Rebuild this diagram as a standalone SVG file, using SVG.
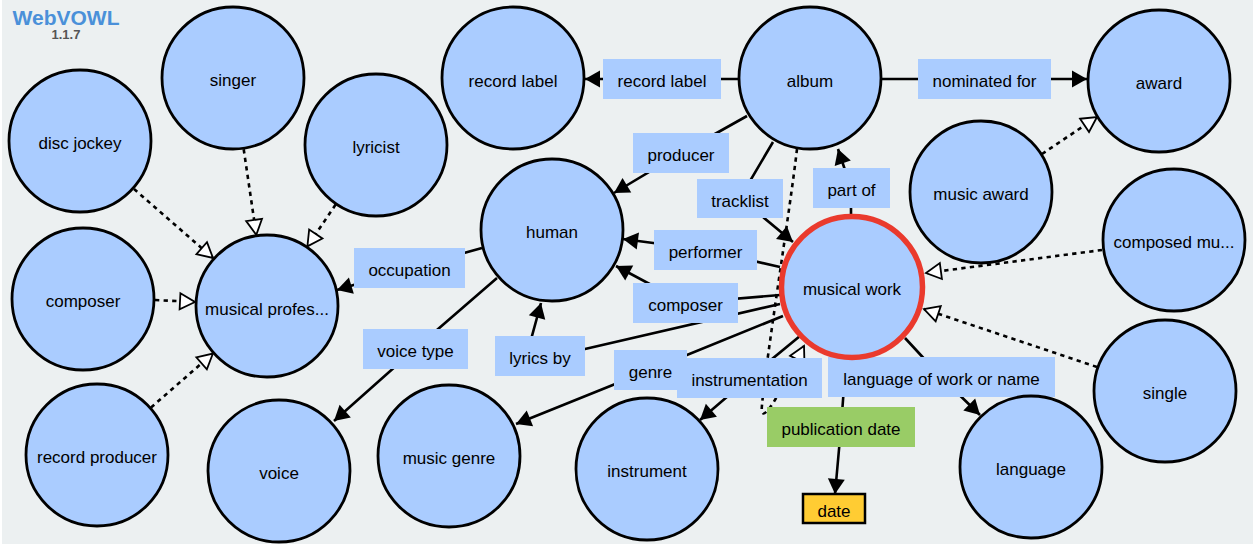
<svg xmlns="http://www.w3.org/2000/svg" width="1253" height="544" viewBox="0 0 1253 544">
<style>
text{font-family:"Liberation Sans",Arial,Helvetica,sans-serif;font-size:17px;fill:#000;text-anchor:middle}
.cls circle{fill:#aaccff;stroke:#000;stroke-width:2.8}
.cls.focus circle{stroke:#ea3a2d;stroke-width:5.5}
.lnk{fill:none;stroke:#000;stroke-width:2.6;marker-end:url(#arr)}
.sub{fill:none;stroke:#000;stroke-width:2.6;stroke-dasharray:4.3 4.3;marker-end:url(#tri)}
.prop rect{fill:#aaccff}
.dprop rect{fill:#99cc66}
.dtype rect{fill:#ffcc33;stroke:#000;stroke-width:2.5}
</style>
<defs>
<marker id="arr" viewBox="-16 -9 17 18" refX="0" refY="0" markerWidth="17" markerHeight="18" markerUnits="userSpaceOnUse" orient="auto">
<path d="M-15,-8.5 L0,0 L-15,8.5 z" fill="#000"/>
</marker>
<marker id="tri" viewBox="-17 -10.5 19 21" refX="0" refY="0" markerWidth="19" markerHeight="21" markerUnits="userSpaceOnUse" orient="auto">
<path d="M-15,-8 L0,0 L-15,8 z" fill="#fff" stroke="#000" stroke-width="1.8" stroke-linejoin="miter"/>
</marker>
</defs>
<rect x="0" y="0" width="1253" height="544" fill="#ecf0f1"/>
<rect x="0" y="0" width="2" height="544" fill="#ffffff"/>
<g id="logo">
<text x="66" y="25" style="font-size:21px;font-weight:bold;fill:#4a90d9">WebVOWL</text>
<text x="66" y="39" style="font-size:13px;font-weight:bold;fill:#555">1.1.7</text>
</g>
<g id="connectors">
<path class="sub" d="M134,189 L213,258"/>
<path class="sub" d="M243.7,149.2 L256.3,234.8"/>
<path class="sub" d="M335.6,204.6 L307.4,246.4"/>
<path class="sub" d="M155,300 L195,302"/>
<path class="sub" d="M151,407.5 L212.9,353.5"/>
<path class="sub" d="M1042,154 L1097,117"/>
<path class="sub" d="M1102,250 L926,273"/>
<path class="sub" d="M1097,367 L924,309"/>
<path class="sub" d="M797,149 C790,210 766,360 762,405 C759,432 782,390 804,346"/>
<path class="lnk" d="M738,79 L585,79"/>
<path class="lnk" d="M882,79 L1087,79"/>
<path class="lnk" d="M747,116 L681,153 L614,193"/>
<path class="lnk" d="M773,142 L740,198 L793,242"/>
<path class="lnk" d="M851,214 L851,188 L838,149"/>
<path class="lnk" d="M780,267 L706,250 L623,239"/>
<path class="lnk" d="M780,295 L685,303 L616,266"/>
<path class="lnk" d="M780,304 L585,349 Q532,360 532,336 L541,303"/>
<path class="lnk" d="M783,316 L650,370 L516,424"/>
<path class="lnk" d="M800,336 L749,378 L700,420"/>
<path class="lnk" d="M905,338 L941,377 L980,415"/>
<path class="lnk" d="M846,360 L841,427 L835,494"/>
<path class="lnk" d="M482,248 L410,268 L337,290"/>
<path class="lnk" d="M497,278 L415,349 L334,421"/>
</g>
<g id="labels">
<g id="p-record-label" class="prop"><rect x="603" y="59" width="118" height="40"/><text x="662" y="87">record label</text></g>
<g id="p-nominated-for" class="prop"><rect x="918" y="59" width="133" height="40"/><text x="984.5" y="87">nominated for</text></g>
<g id="p-producer" class="prop"><rect x="633" y="133" width="96" height="40"/><text x="681" y="161">producer</text></g>
<g id="p-tracklist" class="prop"><rect x="697" y="179" width="86" height="39"/><text x="740" y="206.5">tracklist</text></g>
<g id="p-part-of" class="prop"><rect x="813" y="168" width="77" height="40"/><text x="851.5" y="196">part of</text></g>
<g id="p-performer" class="prop"><rect x="654" y="230" width="103" height="40"/><text x="705.5" y="258">performer</text></g>
<g id="p-composer" class="prop"><rect x="633" y="283" width="105" height="40"/><text x="685.5" y="311">composer</text></g>
<g id="p-occupation" class="prop"><rect x="354" y="248" width="111" height="40"/><text x="409.5" y="276">occupation</text></g>
<g id="p-voice-type" class="prop"><rect x="363" y="329" width="105" height="40"/><text x="415.5" y="357">voice type</text></g>
<g id="p-lyrics-by" class="prop"><rect x="495" y="336" width="90" height="40"/><text x="540" y="364">lyrics by</text></g>
<g id="p-genre" class="prop"><rect x="614" y="350" width="73" height="40"/><text x="650.5" y="378">genre</text></g>
<g id="p-instrumentation" class="prop"><rect x="677" y="358" width="145" height="40"/><text x="749.5" y="386">instrumentation</text></g>
<g id="p-language" class="prop"><rect x="828" y="357" width="227" height="40"/><text x="941.5" y="385">language of work or name</text></g>
<g id="p-publication-date" class="dprop"><rect x="767" y="407" width="148" height="40"/><text x="841" y="435">publication date</text></g>
</g>
<g id="n-singer" class="cls"><circle cx="233" cy="78" r="71"/><text x="233" y="86">singer</text></g>
<g id="n-disc-jockey" class="cls"><circle cx="80" cy="141" r="71"/><text x="80" y="149">disc jockey</text></g>
<g id="n-lyricist" class="cls"><circle cx="376" cy="145" r="71"/><text x="376" y="153">lyricist</text></g>
<g id="n-composer" class="cls"><circle cx="83" cy="299" r="71"/><text x="83" y="307">composer</text></g>
<g id="n-musical-profession" class="cls"><circle cx="267" cy="306" r="71"/><text x="267" y="315">musical profes...</text></g>
<g id="n-record-producer" class="cls"><circle cx="97" cy="455" r="71"/><text x="97" y="463">record producer</text></g>
<g id="n-voice" class="cls"><circle cx="279" cy="471" r="71"/><text x="279" y="479">voice</text></g>
<g id="n-music-genre" class="cls"><circle cx="449" cy="456" r="71"/><text x="449" y="464">music genre</text></g>
<g id="n-instrument" class="cls"><circle cx="647" cy="469" r="71"/><text x="647" y="477">instrument</text></g>
<g id="n-human" class="cls"><circle cx="552" cy="230" r="71"/><text x="552" y="238">human</text></g>
<g id="n-record-label" class="cls"><circle cx="513" cy="78" r="71"/><text x="513" y="87">record label</text></g>
<g id="n-album" class="cls"><circle cx="810" cy="78" r="71"/><text x="810" y="87">album</text></g>
<g id="n-award" class="cls"><circle cx="1159" cy="81" r="71"/><text x="1159" y="89">award</text></g>
<g id="n-music-award" class="cls"><circle cx="981" cy="192" r="71"/><text x="981" y="200">music award</text></g>
<g id="n-composed-music" class="cls"><circle cx="1174" cy="240" r="71"/><text x="1174" y="248">composed mu...</text></g>
<g id="n-single" class="cls"><circle cx="1165" cy="391" r="71"/><text x="1165" y="399">single</text></g>
<g id="n-language" class="cls"><circle cx="1031" cy="467" r="71"/><text x="1031" y="475">language</text></g>
<g id="n-musical-work" class="cls focus"><circle cx="852" cy="287" r="70.5"/><text x="852" y="295">musical work</text></g>
<g id="n-date" class="dtype"><rect x="803" y="494" width="62" height="29"/><text x="834" y="517">date</text></g>
</svg>
